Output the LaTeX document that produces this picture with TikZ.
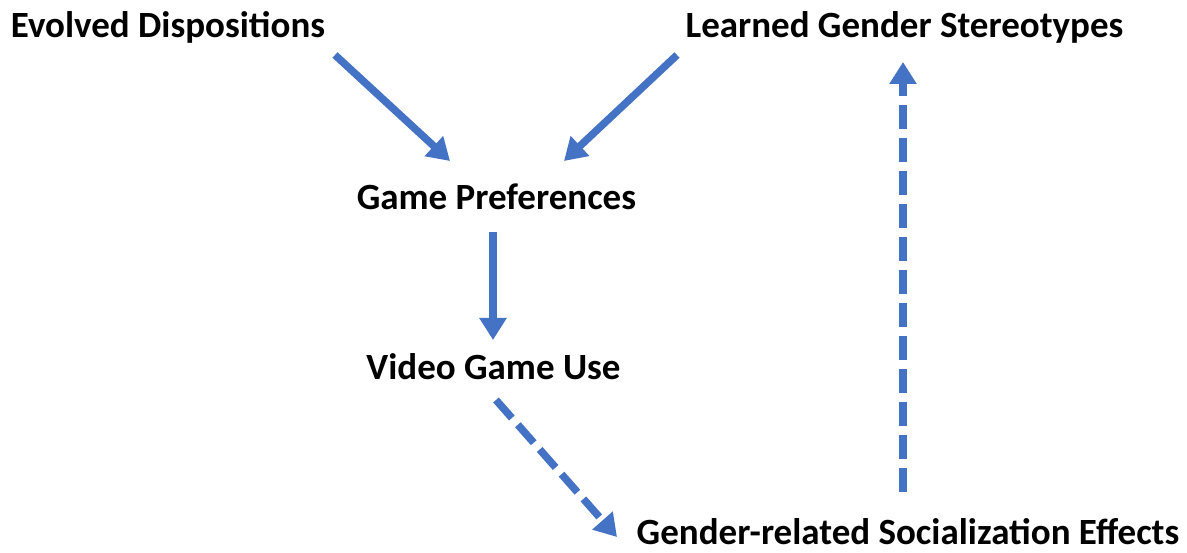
\documentclass[tikz,border=0pt]{standalone}
\usepackage{fontspec}
\setmainfont{Carlito}
\usetikzlibrary{arrows.meta}
\definecolor{arrowblue}{HTML}{4472C4}
\begin{document}
\begin{tikzpicture}[x=1pt,y=-1pt,
  lbl/.style={font=\fontsize{37}{44}\selectfont\bfseries, inner sep=0pt, text=black},
  conn/.style={draw=arrowblue, line width=7.5pt, -{Triangle[length=22pt,width=26pt]}},
  dashconn/.style={conn, dash pattern=on 24pt off 9pt}]
\useasboundingbox (0,0) rectangle (1187,553);
\node[lbl] (ed) at (168,27) {Evolved Dispositions};
\node[lbl] (lgs) at (904.5,27) {Learned Gender Stereotypes};
\node[lbl] (gp) at (496.5,197) {Game Preferences};
\node[lbl] (vgu) at (493.5,367) {Video Game Use};
\node[lbl] (grse) at (908,532) {Gender-related Socialization Effects};
\coordinate (edS) at (335,55);
\coordinate (gpL) at (450,161);
\coordinate (lgsS) at (677,55);
\coordinate (gpR) at (564,161);
\coordinate (gpB) at (493,232);
\coordinate (vguT) at (493,340);
\coordinate (vguB) at (496,400);
\coordinate (grseL) at (617,537);
\coordinate (grseT) at (903,492);
\coordinate (lgsB) at (903,62);
\draw[conn] (edS) -- (gpL);
\draw[conn] (lgsS) -- (gpR);
\draw[conn] (gpB) -- (vguT);
\draw[dashconn] (vguB) -- (grseL);
\draw[dashconn] (grseT) -- (lgsB);
\end{tikzpicture}
\end{document}
